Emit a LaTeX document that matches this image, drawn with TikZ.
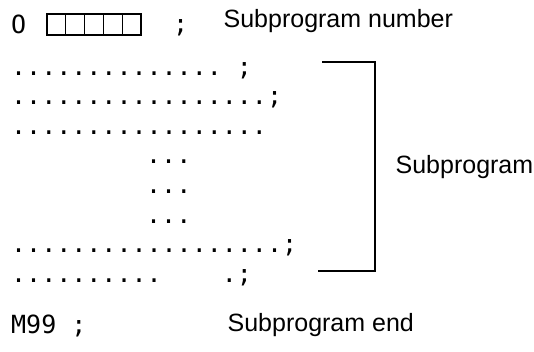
\documentclass[tikz,border=0pt]{standalone}
\usepackage{fontspec}
\usepackage{tikz}
\usetikzlibrary{positioning}
\setmainfont{Liberation Sans}
\newfontfamily\progfont{DejaVu Sans Mono}

\begin{document}
\begin{tikzpicture}[x=1pt, y=-1pt, line width=1.3pt,
    prog/.style = {font=\fontsize{25}{30}\selectfont\progfont, anchor=base west, inner sep=0pt},
    note/.style = {font=\fontsize{25}{30}\selectfont, anchor=base west, inner sep=0pt},
    cell/.style = {draw, line width=1.2pt, minimum width=18.8pt, minimum height=21pt, inner sep=0pt, outer sep=0pt}]
    \useasboundingbox (0,0) rectangle (534,351);

    % Header line
    \node [prog] (oword) at (10.5,33) {O};
    \node [cell] (cell1) at (56.4,24.5) {};
    \foreach \i [count=\j from 2] in {1,...,4}
        \node [cell, right=0pt of cell\i] (cell\j) {};
    \node [prog] (semi) at (172.5,32) {;};
    \node [note] (numtext) at (223,27) {Subprogram number};

    % Body of the subprogram
    \node [prog] (line1) at (10.5,75) {..............~;};
    \node [prog] (line2) at (10.5,104.6) {.................;};
    \node [prog] (line3) at (10.5,134.2) {.................};
    \node [prog] (line4) at (145.5,163.8) {...};
    \node [prog] (line5) at (145.5,193.4) {...};
    \node [prog] (line6) at (145.5,223) {...};
    \node [prog] (line7) at (10.5,252.6) {..................;};
    \node [prog] (line8) at (10.5,282.2) {..........~~~~.;};

    % Bracket
    \coordinate (brtop) at (322,62);
    \coordinate (brbottom) at (318,271);
    \draw (brtop) -- ++(53,0) |- (brbottom);
    \node [note] (subtext) at (395,173) {Subprogram};

    % End line
    \node [prog] (mend) at (10.5,333) {M99~;};
    \node [note] (endtext) at (227,331) {Subprogram end};
\end{tikzpicture}
\end{document}
